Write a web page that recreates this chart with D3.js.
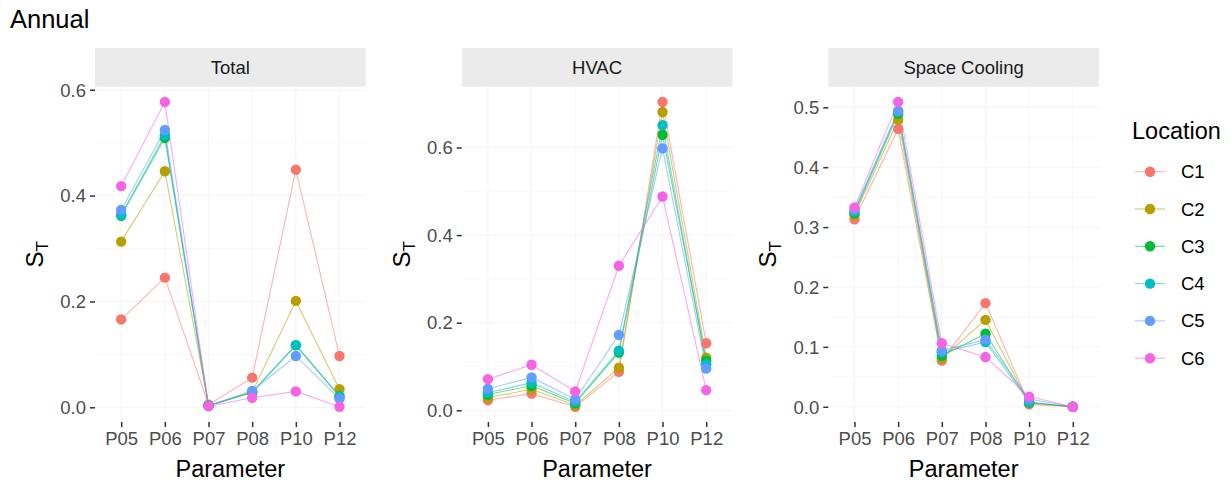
<!DOCTYPE html>
<html><head><meta charset="utf-8">
<script src="https://cdn.jsdelivr.net/npm/d3@7"></script>
<style>
body{margin:0;background:#fff;}
text{font-family:"Liberation Sans",Arial,sans-serif;}
</style></head>
<body><svg id="chart" width="1230" height="481"></svg>
<script>
const parameters = ["P05","P06","P07","P08","P10","P12"];
const locations = ["C1","C2","C3","C4","C5","C6"];
const colors = ["#F8766D","#B79F00","#00BA38","#00BFC4","#619CFF","#F564E3"];
const panelTitles = ["Total","HVAC","Space Cooling"];

// values per location (C1..C6), per parameter (P05..P12)
const totalValues = [
  [0.166,0.245,0.005,0.056,0.449,0.097],
  [0.313,0.446,0.004,0.029,0.201,0.034],
  [0.362,0.509,0.003,0.028,0.117,0.021],
  [0.364,0.514,0.003,0.029,0.118,0.020],
  [0.373,0.524,0.003,0.031,0.097,0.016],
  [0.418,0.577,0.002,0.018,0.030,0.001]
];
const hvacValues = [
  [0.023,0.038,0.008,0.088,0.704,0.153],
  [0.029,0.048,0.011,0.097,0.681,0.120],
  [0.036,0.056,0.016,0.132,0.629,0.113],
  [0.040,0.063,0.019,0.136,0.651,0.105],
  [0.049,0.075,0.025,0.172,0.598,0.095],
  [0.071,0.104,0.043,0.330,0.488,0.046]
];
const coolingValues = [
  [0.313,0.464,0.077,0.173,0.004,0.000],
  [0.320,0.479,0.081,0.145,0.006,0.000],
  [0.323,0.489,0.085,0.122,0.007,0.000],
  [0.326,0.493,0.091,0.108,0.008,0.000],
  [0.329,0.494,0.094,0.112,0.013,0.000],
  [0.333,0.509,0.106,0.083,0.017,0.000]
];
const totalTicks = [0,0.2,0.4,0.6];
const hvacTicks = [0,0.2,0.4,0.6];
const coolingTicks = [0,0.1,0.2,0.3,0.4,0.5];

const panelValues = [totalValues, hvacValues, coolingValues];
const panelTicks = [totalTicks, hvacTicks, coolingTicks];

const svg = d3.select("#chart");
const panelLefts = [95, 461.7, 828.3];
const panelW = 270.7;
const stripTop = 48, stripBottom = 86.7, panelBottom = 422;

svg.append("text").attr("x",10).attr("y",28).attr("font-size",25.5).attr("fill","#000").text("Annual");

panelValues.forEach((vals, pi) => {
  const x0 = panelLefts[pi];
  const g = svg.append("g").attr("transform",`translate(${x0},0)`);
  const all = vals.flat();
  const mn = d3.min(all), mx = d3.max(all), pad = (mx-mn)*0.05;
  const y = d3.scaleLinear().domain([mn-pad, mx+pad]).range([panelBottom, stripBottom]);
  const x = d3.scalePoint().domain(parameters).range([0,panelW]).padding(0.6);
  const ticks = panelTicks[pi];

  // strip
  g.append("rect").attr("x",0).attr("y",stripTop).attr("width",panelW).attr("height",stripBottom-stripTop).attr("fill","#ebebeb");
  g.append("text").attr("x",panelW/2).attr("y",(stripTop+stripBottom)/2+6.5).attr("text-anchor","middle")
    .attr("font-size",18.5).attr("fill","#1a1a1a").text(panelTitles[pi]);

  // faint grid
  const minor = ticks.slice(0,-1).map((t,i)=>(t+ticks[i+1])/2);
  g.selectAll(".ymin").data(minor).join("line").attr("x1",0).attr("x2",panelW)
    .attr("y1",d=>y(d)).attr("y2",d=>y(d)).attr("stroke","#fafafa");
  g.selectAll(".ymaj").data(ticks).join("line").attr("x1",0).attr("x2",panelW)
    .attr("y1",d=>y(d)).attr("y2",d=>y(d)).attr("stroke","#f4f4f4");
  g.selectAll(".xmaj").data(parameters).join("line").attr("x1",d=>x(d)).attr("x2",d=>x(d))
    .attr("y1",stripBottom).attr("y2",panelBottom).attr("stroke","#f4f4f4");

  // axes
  const ya = g.append("g").call(d3.axisLeft(y).tickValues(ticks).tickFormat(d3.format(".1f")).tickSize(5).tickPadding(4));
  ya.select(".domain").remove();
  ya.selectAll("line").attr("stroke","#333").attr("stroke-width",1.5);
  ya.selectAll("text").attr("font-size",18.5).attr("fill","#4d4d4d").attr("dy","0.34em");
  const xa = g.append("g").attr("transform",`translate(0,${panelBottom})`).call(d3.axisBottom(x).tickSize(5).tickPadding(4));
  xa.select(".domain").remove();
  xa.selectAll("line").attr("stroke","#333").attr("stroke-width",1.5);
  xa.selectAll("text").attr("font-size",18.5).attr("fill","#4d4d4d").attr("dy","0.75em");

  // axis titles
  g.append("text").attr("x",panelW/2).attr("y",476.5).attr("text-anchor","middle").attr("font-size",23.5).attr("fill","#000").text("Parameter");
  const yt = g.append("text").attr("transform",`translate(-52,${(stripBottom+panelBottom)/2}) rotate(-90)`)
    .attr("text-anchor","middle").attr("font-size",24).attr("fill","#000");
  yt.append("tspan").text("S");
  yt.append("tspan").attr("font-size",17).attr("dy",5).text("T");

  // lines
  const line = d3.line().x((d,i)=>x(parameters[i])).y(d=>y(d));
  vals.forEach((v,li)=>{
    g.append("path").attr("d",line(v)).attr("fill","none").attr("stroke",colors[li]).attr("stroke-width",1.1).attr("stroke-opacity",0.55);
  });
  vals.forEach((v,li)=>{
    g.selectAll(null).data(v).join("circle").attr("cx",(d,i)=>x(parameters[i])).attr("cy",d=>y(d))
      .attr("r",5.2).attr("fill",colors[li]);
  });
});

// legend
const lg = svg.append("g");
lg.append("text").attr("x",1132).attr("y",139).attr("font-size",23.5).attr("fill","#000").text("Location");
locations.forEach((loc,i)=>{
  const cy = 171.7 + i*37.3;
  lg.append("line").attr("x1",1135).attr("x2",1165).attr("y1",cy).attr("y2",cy).attr("stroke",colors[i]).attr("stroke-opacity",0.55).attr("stroke-width",1.1);
  lg.append("circle").attr("cx",1150).attr("cy",cy).attr("r",5.2).attr("fill",colors[i]);
  lg.append("text").attr("x",1181).attr("y",cy+6.5).attr("font-size",18.5).attr("fill","#000").text(loc);
});
</script></body></html>
